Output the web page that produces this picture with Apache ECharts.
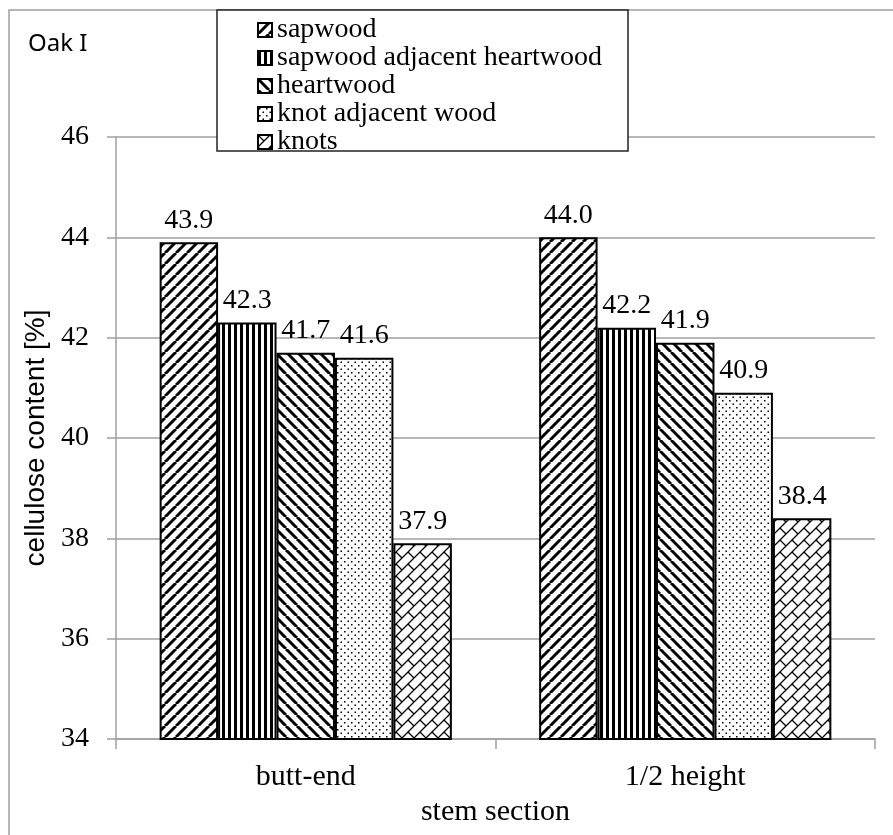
<!DOCTYPE html>
<html><head><meta charset="utf-8">
<script src="https://cdn.jsdelivr.net/npm/echarts@6/dist/echarts.min.js"></script>
<style>html,body{margin:0;padding:0;background:#fff}#c{width:893px;height:835px}</style>
</head><body><div id="c"></div>
<script>
const categories = ['butt-end', '1/2 height'];
const seriesNames = ['sapwood', 'sapwood adjacent heartwood', 'heartwood', 'knot adjacent wood', 'knots'];
const sapwood = [43.9, 44.0];
const sapwoodAdjHeartwood = [42.3, 42.2];
const heartwood = [41.7, 41.9];
const knotAdjWood = [41.6, 40.9];
const knots = [37.9, 38.4];
const yTicks = { min: 34, max: 46, interval: 2 };
const chartTitle = 'Oak I';

function mk(w, h, draw) {
  const c = document.createElement('canvas');
  c.width = w; c.height = h;
  const ctx = c.getContext('2d');
  ctx.fillStyle = '#fff'; ctx.fillRect(0, 0, w, h);
  ctx.strokeStyle = '#000'; ctx.fillStyle = '#000';
  draw(ctx, w, h);
  return { image: c, repeat: 'repeat' };
}
const patFwd = mk(11, 11, (ctx, w, h) => {
  ctx.lineWidth = 3;
  for (let k = -1; k <= 1; k++) { ctx.beginPath(); ctx.moveTo(k * w, h); ctx.lineTo(k * w + w, 0); ctx.stroke(); }
});
const patBack = mk(11, 11, (ctx, w, h) => {
  ctx.lineWidth = 3;
  for (let k = -1; k <= 1; k++) { ctx.beginPath(); ctx.moveTo(k * w, 0); ctx.lineTo(k * w + w, h); ctx.stroke(); }
});
const patVert = mk(6, 4, (ctx, w, h) => { ctx.fillRect(0, 0, 3, h); });
const patDots = mk(7, 7, (ctx) => { ctx.fillRect(1, 1, 1.5, 1.5); ctx.fillRect(4.5, 4.5, 1.5, 1.5); });
const patBrick = mk(12, 12, (ctx, T) => {
  ctx.lineWidth = 1.3;
  const s2 = Math.SQRT1_2, L = T * Math.SQRT2, wv = L / 2;
  const u = [s2, -s2], v = [s2, s2];
  for (let i = -4; i <= 4; i++) for (let j = -4; j <= 4; j++) {
    const ox = i * L * u[0] + j * (wv * v[0] + L / 2 * u[0]);
    const oy = i * L * u[1] + j * (wv * v[1] + L / 2 * u[1]);
    ctx.beginPath();
    ctx.moveTo(ox, oy); ctx.lineTo(ox + L * u[0], oy + L * u[1]);
    ctx.moveTo(ox, oy); ctx.lineTo(ox + wv * v[0], oy + wv * v[1]);
    ctx.stroke();
  }
});
const patterns = [patFwd, patVert, patBack, patDots, patBrick];
const dataSets = [sapwood, sapwoodAdjHeartwood, heartwood, knotAdjWood, knots];

const serif = 'Liberation Serif';
const chart = echarts.init(document.getElementById('c'), null, { renderer: 'canvas' });
chart.setOption({
  animation: false,
  backgroundColor: '#fff',
  grid: { left: 116, right: 18, top: 137, bottom: 96 },
  graphic: [
    { type: 'rect', shape: { x: 9, y: 10, width: 900, height: 840 }, style: { fill: 'none', stroke: '#a0a0a0', lineWidth: 1.5 }, z: 0 },
    { type: 'rect', shape: { x: 217, y: 10, width: 411, height: 141 }, style: { fill: '#fff', stroke: '#222', lineWidth: 1.5 }, z: 10 },
    { type: 'text', left: 28, top: 32, style: { text: chartTitle, font: '24px "Noto Sans"', fill: '#000' }, z: 12 }
  ],
  legend: {
    orient: 'vertical', left: 252, top: 11, itemGap: 0, itemWidth: 14, itemHeight: 14,
    icon: 'rect', z: 11,
    textStyle: { fontFamily: serif, fontSize: 28, color: '#000', lineHeight: 28 },
    data: seriesNames
  },
  xAxis: {
    type: 'category', data: categories,
    name: 'stem section', nameLocation: 'middle', nameGap: 55,
    nameTextStyle: { fontFamily: serif, fontSize: 30, color: '#000' },
    axisLine: { lineStyle: { color: '#a0a0a0', width: 1.5 } },
    axisTick: { show: true, length: 10, lineStyle: { color: '#a0a0a0', width: 1.5 } },
    axisLabel: { fontFamily: serif, fontSize: 30, color: '#000', margin: 23 }
  },
  yAxis: {
    type: 'value', min: yTicks.min, max: yTicks.max, interval: yTicks.interval,
    name: 'cellulose content [%]', nameLocation: 'middle', nameGap: 65,
    nameTextStyle: { fontFamily: 'Liberation Sans', fontSize: 28, color: '#000' },
    axisLine: { show: true, lineStyle: { color: '#a0a0a0', width: 1.5 } },
    axisTick: { show: true, length: 9, lineStyle: { color: '#a0a0a0', width: 1.5 } },
    axisLabel: { fontFamily: serif, fontSize: 28, color: '#000', margin: 27 },
    splitLine: { lineStyle: { color: '#a0a0a0', width: 1.5 } }
  },
  series: seriesNames.map((n, i) => ({
    name: n, type: 'bar', data: dataSets[i],
    barGap: '0%', barCategoryGap: '23%',
    itemStyle: { color: patterns[i], borderColor: '#000', borderWidth: 2 },
    label: { show: true, position: 'top', distance: 8, fontFamily: serif, fontSize: 28, color: '#000',
      formatter: p => p.value.toFixed(1) }
  }))
});
</script></body></html>
